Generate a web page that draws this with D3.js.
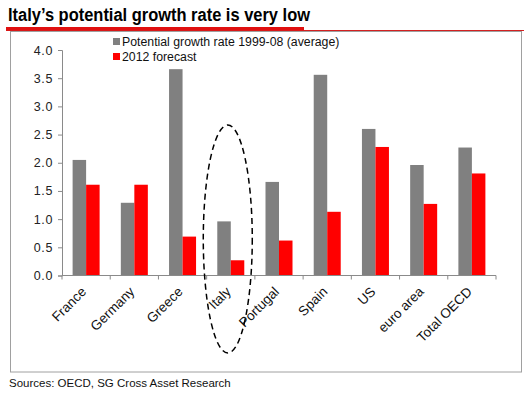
<!DOCTYPE html>
<html><head><meta charset="utf-8">
<script src="https://cdn.jsdelivr.net/npm/d3@7"></script>
<style>
html,body{margin:0;padding:0;background:#fff;}
svg{display:block;font-family:"Liberation Sans",Arial,sans-serif;}
</style></head>
<body>
<svg id="c" width="531" height="394"></svg>
<script>
const categories = ["France","Germany","Greece","Italy","Portugal","Spain","US","euro area","Total OECD"];
const potential = [2.05, 1.29, 3.66, 0.96, 1.66, 3.56, 2.60, 1.96, 2.27];
const forecast2012 = [1.61, 1.61, 0.69, 0.27, 0.62, 1.13, 2.28, 1.27, 1.81];
const seriesNames = ["Potential growth rate 1999-08 (average)", "2012 forecast"];
const yTicks = [0, 0.5, 1, 1.5, 2, 2.5, 3, 3.5, 4];
const title = "Italy\u2019s potential growth rate is very low";
const source = "Sources: OECD, SG Cross Asset Research";
const colors = ["#808080", "#ff0000"];

const svg = d3.select("#c");

// title
svg.append("text").attr("x", 8).attr("y", 21)
  .attr("font-size", 18).attr("font-weight", "bold").attr("fill", "#000")
  .attr("textLength", 302).attr("lengthAdjust", "spacingAndGlyphs")
  .text(title);
// red rules
svg.append("line").attr("x1", 6).attr("x2", 524).attr("y1", 30.5).attr("y2", 30.5)
  .attr("stroke", "#d32020").attr("stroke-width", 1);
svg.append("rect").attr("x", 6).attr("y", 27).attr("width", 298).attr("height", 3.5)
  .attr("fill", "#e01010");
// frame
svg.append("rect").attr("x", 10.5).attr("y", 31.5).attr("width", 511).attr("height", 340.5)
  .attr("fill", "none").attr("stroke", "#a0a0a0").attr("stroke-width", 1);

const x0 = 62, x1 = 496, yb = 275.5, yt = 50;
const x = d3.scaleBand().domain(categories).range([x0, x1]).padding(0);
const y = d3.scaleLinear().domain([0, 4]).range([yb, yt]);
const bw = x.bandwidth() * 0.28;

const series = [potential, forecast2012];
series.forEach((vals, si) => {
  svg.append("g").selectAll("rect").data(categories).join("rect")
    .attr("x", (d) => x(d) + x.bandwidth() / 2 - bw + si * bw)
    .attr("y", (d, i) => y(vals[i]))
    .attr("width", bw)
    .attr("height", (d, i) => yb - y(vals[i]))
    .attr("fill", colors[si]);
});

// y axis
const yAxis = svg.append("g").attr("transform", `translate(${x0},0)`)
  .call(d3.axisLeft(y).tickValues(yTicks).tickFormat(d3.format(".1f")).tickSize(4).tickPadding(5));
yAxis.select(".domain").attr("stroke", "#8a8a8a");
yAxis.selectAll(".tick line").attr("stroke", "#8a8a8a");
yAxis.selectAll(".tick text").attr("font-size", 12.5).attr("fill", "#222")
  .attr("font-family", "Liberation Sans, Arial, sans-serif").attr("letter-spacing", 0.6);

// x axis
const xAxis = svg.append("g").attr("transform", `translate(0,${yb})`);
xAxis.append("line").attr("x1", x0).attr("x2", x1).attr("stroke", "#8a8a8a");
const bounds = categories.map((c) => x(c)).concat([x1]);
xAxis.selectAll("line.tk").data(bounds).join("line").attr("class", "tk")
  .attr("x1", (d) => d).attr("x2", (d) => d).attr("y1", 0).attr("y2", 4)
  .attr("stroke", "#8a8a8a");
xAxis.selectAll("text").data(categories).join("text")
  .attr("transform", (d) => `translate(${x(d) + x.bandwidth() / 2 + 1},${17}) rotate(-45)`)
  .attr("text-anchor", "end").attr("font-size", 13.5).attr("fill", "#111")
  .text((d) => d);

// legend
const lg = svg.append("g");
seriesNames.forEach((n, i) => {
  lg.append("rect").attr("x", 113).attr("y", 38 + i * 15).attr("width", 7).attr("height", 7)
    .attr("fill", colors[i]);
  lg.append("text").attr("x", 122).attr("y", 46 + i * 15).attr("font-size", 12.3)
    .attr("fill", "#111").text(n);
});

// dashed ellipse around Italy
const cx = x("Italy") + x.bandwidth() / 2 - 3;
svg.append("ellipse").attr("cx", cx).attr("cy", 239).attr("rx", 24.5).attr("ry", 114)
  .attr("fill", "none").attr("stroke", "#000").attr("stroke-width", 1.5)
  .attr("stroke-dasharray", "6,4");

// source
svg.append("text").attr("x", 9).attr("y", 387).attr("font-size", 11.5).attr("fill", "#111")
  .text(source);
</script>
</body></html>
